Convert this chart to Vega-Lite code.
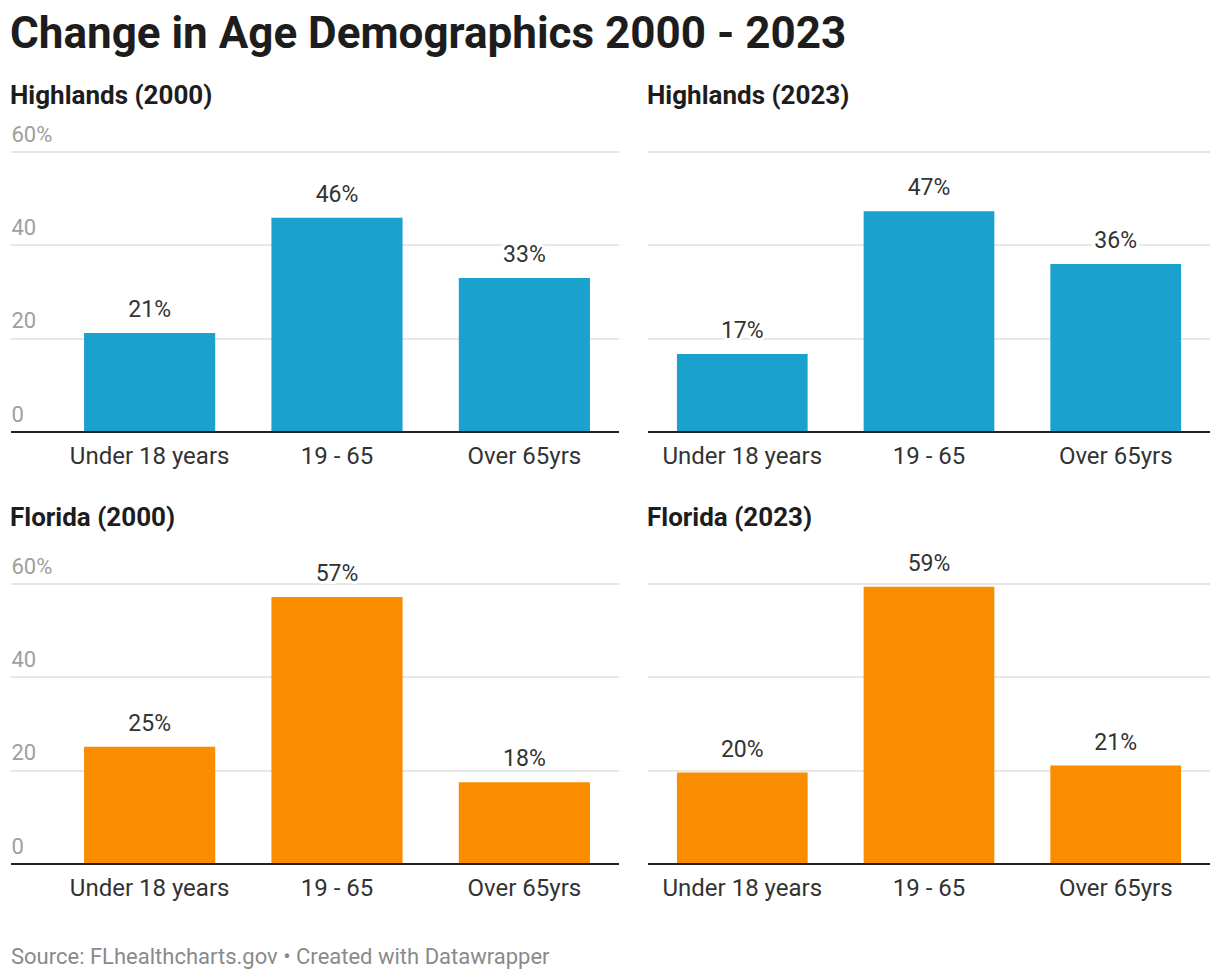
{
  "$schema": "https://vega.github.io/schema/vega-lite/v6.json",
  "padding": {"left": 10, "top": 13, "right": 10, "bottom": 10},
  "background": "white",
  "title": {"text": "Change in Age Demographics 2000 - 2023", "anchor": "start", "fontSize": 44, "fontWeight": "bold", "font": "Roboto", "color": "#1d1d1d", "offset": 26},
  "data": {"values": [
    {"panel": "Highlands (2000)", "group": "Under 18 years", "value": 0.212},
    {"panel": "Highlands (2000)", "group": "19 - 65", "value": 0.459},
    {"panel": "Highlands (2000)", "group": "Over 65yrs", "value": 0.330},
    {"panel": "Highlands (2023)", "group": "Under 18 years", "value": 0.167},
    {"panel": "Highlands (2023)", "group": "19 - 65", "value": 0.473},
    {"panel": "Highlands (2023)", "group": "Over 65yrs", "value": 0.360},
    {"panel": "Florida (2000)", "group": "Under 18 years", "value": 0.251},
    {"panel": "Florida (2000)", "group": "19 - 65", "value": 0.572},
    {"panel": "Florida (2000)", "group": "Over 65yrs", "value": 0.175},
    {"panel": "Florida (2023)", "group": "Under 18 years", "value": 0.196},
    {"panel": "Florida (2023)", "group": "19 - 65", "value": 0.594},
    {"panel": "Florida (2023)", "group": "Over 65yrs", "value": 0.211}
  ]},
  "spacing": 20,
  "vconcat": [
    {
      "spacing": 36,
      "vconcat": [
        {
          "spacing": 27,
          "hconcat": [
            {
              "width": 608, "height": 280,
              "title": {"text": "Highlands (2000)", "offset": 14},
              "transform": [{"filter": "datum.panel == 'Highlands (2000)'"}],
              "encoding": {
                "x": {"field": "group", "type": "nominal", "sort": ["Under 18 years", "19 - 65", "Over 65yrs"], "title": null, "scale": {"range": [44, 608], "paddingInner": 0.3, "paddingOuter": 0.155}},
                "y": {"field": "value", "type": "quantitative", "title": null, "scale": {"domain": [0, 0.6]}, "axis": {"values": [0, 0.2, 0.4, 0.6]}}
              },
              "layer": [
                {"mark": {"type": "rule", "color": "#e5e5e5", "strokeWidth": 1.5}, "encoding": {"y": {"datum": 0.2}, "x": null}},
                {"mark": {"type": "rule", "color": "#e5e5e5", "strokeWidth": 1.5}, "encoding": {"y": {"datum": 0.4}, "x": null}},
                {"mark": {"type": "rule", "color": "#e5e5e5", "strokeWidth": 1.5}, "encoding": {"y": {"datum": 0.6}, "x": null}},
                {"mark": {"type": "bar", "color": "#1aa1ce"}},
                {"mark": {"type": "text", "baseline": "alphabetic", "dy": -16, "fontSize": 23, "fill": "white", "stroke": "white", "strokeWidth": 6}, "encoding": {"text": {"field": "value", "format": ".0%"}}},
                {"mark": {"type": "text", "baseline": "alphabetic", "dy": -16, "fontSize": 23, "color": "#333333"}, "encoding": {"text": {"field": "value", "format": ".0%"}}},
                {"mark": {"type": "rule", "color": "#222222", "strokeWidth": 2}, "encoding": {"y": {"datum": 0}, "x": null}}
              ]
            },
            {
              "width": 562, "height": 280,
              "title": {"text": "Highlands (2023)", "offset": 14},
              "transform": [{"filter": "datum.panel == 'Highlands (2023)'"}],
              "encoding": {
                "x": {"field": "group", "type": "nominal", "sort": ["Under 18 years", "19 - 65", "Over 65yrs"], "title": null, "scale": {"paddingInner": 0.3, "paddingOuter": 0.155}},
                "y": {"field": "value", "type": "quantitative", "title": null, "scale": {"domain": [0, 0.6]}, "axis": {"values": [0, 0.2, 0.4, 0.6], "labelOpacity": 0}}
              },
              "layer": [
                {"mark": {"type": "rule", "color": "#e5e5e5", "strokeWidth": 1.5}, "encoding": {"y": {"datum": 0.2}, "x": null}},
                {"mark": {"type": "rule", "color": "#e5e5e5", "strokeWidth": 1.5}, "encoding": {"y": {"datum": 0.4}, "x": null}},
                {"mark": {"type": "rule", "color": "#e5e5e5", "strokeWidth": 1.5}, "encoding": {"y": {"datum": 0.6}, "x": null}},
                {"mark": {"type": "bar", "color": "#1aa1ce"}},
                {"mark": {"type": "text", "baseline": "alphabetic", "dy": -16, "fontSize": 23, "fill": "white", "stroke": "white", "strokeWidth": 6}, "encoding": {"text": {"field": "value", "format": ".0%"}}},
                {"mark": {"type": "text", "baseline": "alphabetic", "dy": -16, "fontSize": 23, "color": "#333333"}, "encoding": {"text": {"field": "value", "format": ".0%"}}},
                {"mark": {"type": "rule", "color": "#222222", "strokeWidth": 2}, "encoding": {"y": {"datum": 0}, "x": null}}
              ]
            }
          ]
        },
        {
          "spacing": 27,
          "hconcat": [
            {
              "width": 608, "height": 280,
              "title": {"text": "Florida (2000)", "offset": 24},
              "transform": [{"filter": "datum.panel == 'Florida (2000)'"}],
              "encoding": {
                "x": {"field": "group", "type": "nominal", "sort": ["Under 18 years", "19 - 65", "Over 65yrs"], "title": null, "scale": {"range": [44, 608], "paddingInner": 0.3, "paddingOuter": 0.155}},
                "y": {"field": "value", "type": "quantitative", "title": null, "scale": {"domain": [0, 0.6]}, "axis": {"values": [0, 0.2, 0.4, 0.6]}}
              },
              "layer": [
                {"mark": {"type": "rule", "color": "#e5e5e5", "strokeWidth": 1.5}, "encoding": {"y": {"datum": 0.2}, "x": null}},
                {"mark": {"type": "rule", "color": "#e5e5e5", "strokeWidth": 1.5}, "encoding": {"y": {"datum": 0.4}, "x": null}},
                {"mark": {"type": "rule", "color": "#e5e5e5", "strokeWidth": 1.5}, "encoding": {"y": {"datum": 0.6}, "x": null}},
                {"mark": {"type": "bar", "color": "#fa8c00"}},
                {"mark": {"type": "text", "baseline": "alphabetic", "dy": -16, "fontSize": 23, "fill": "white", "stroke": "white", "strokeWidth": 6}, "encoding": {"text": {"field": "value", "format": ".0%"}}},
                {"mark": {"type": "text", "baseline": "alphabetic", "dy": -16, "fontSize": 23, "color": "#333333"}, "encoding": {"text": {"field": "value", "format": ".0%"}}},
                {"mark": {"type": "rule", "color": "#222222", "strokeWidth": 2}, "encoding": {"y": {"datum": 0}, "x": null}}
              ]
            },
            {
              "width": 562, "height": 280,
              "title": {"text": "Florida (2023)", "offset": 22},
              "transform": [{"filter": "datum.panel == 'Florida (2023)'"}],
              "encoding": {
                "x": {"field": "group", "type": "nominal", "sort": ["Under 18 years", "19 - 65", "Over 65yrs"], "title": null, "scale": {"paddingInner": 0.3, "paddingOuter": 0.155}},
                "y": {"field": "value", "type": "quantitative", "title": null, "scale": {"domain": [0, 0.6]}, "axis": {"values": [0, 0.2, 0.4, 0.6], "labelOpacity": 0}}
              },
              "layer": [
                {"mark": {"type": "rule", "color": "#e5e5e5", "strokeWidth": 1.5}, "encoding": {"y": {"datum": 0.2}, "x": null}},
                {"mark": {"type": "rule", "color": "#e5e5e5", "strokeWidth": 1.5}, "encoding": {"y": {"datum": 0.4}, "x": null}},
                {"mark": {"type": "rule", "color": "#e5e5e5", "strokeWidth": 1.5}, "encoding": {"y": {"datum": 0.6}, "x": null}},
                {"mark": {"type": "bar", "color": "#fa8c00"}},
                {"mark": {"type": "text", "baseline": "alphabetic", "dy": -16, "fontSize": 23, "fill": "white", "stroke": "white", "strokeWidth": 6}, "encoding": {"text": {"field": "value", "format": ".0%"}}},
                {"mark": {"type": "text", "baseline": "alphabetic", "dy": -16, "fontSize": 23, "color": "#333333"}, "encoding": {"text": {"field": "value", "format": ".0%"}}},
                {"mark": {"type": "rule", "color": "#222222", "strokeWidth": 2}, "encoding": {"y": {"datum": 0}, "x": null}}
              ]
            }
          ]
        }
      ]
    },
    {
      "width": 600, "height": 45,
      "data": {"values": [{}]},
      "mark": {"type": "text", "text": "Source: FLhealthcharts.gov • Created with Datawrapper", "align": "left", "baseline": "alphabetic", "fontSize": 22, "color": "#8a8a8a"},
      "encoding": {"x": {"value": 0}, "y": {"value": 44}}
    }
  ],
  "config": {
    "font": "Roboto",
    "view": {"stroke": null},
    "concat": {"spacing": 30},
    "title": {"anchor": "start", "fontSize": 26, "fontWeight": "bold", "color": "#1d1d1d", "offset": 14},
    "axisX": {"labelFontSize": 24, "labelColor": "#333333", "labelPadding": 12, "ticks": false, "domain": false, "labelAngle": 0, "grid": false},
    "axisY": {"grid": false, "domain": false, "ticks": false, "tickSize": 0, "labelAlign": "left", "labelBaseline": "alphabetic", "labelOffset": -11, "labelPadding": 0, "labelFontSize": 22, "labelColor": "#a0a0a0", "labelExpr": "datum.value > 0.5 ? '60%' : format(datum.value * 100, 'd')"}
  }
}
